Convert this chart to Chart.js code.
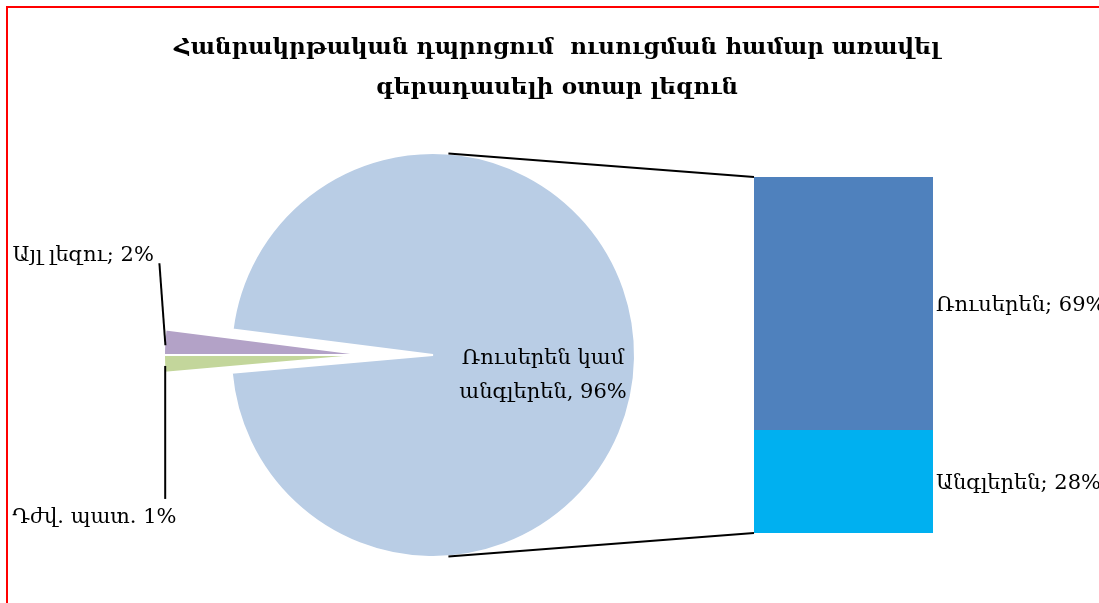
<!DOCTYPE html>
<html>
<head>
<meta charset="utf-8">
<script src="https://cdn.jsdelivr.net/npm/chart.js@4.4.1/dist/chart.umd.min.js"></script>
<style>
  html, body { margin: 0; padding: 0; width: 1099px; height: 603px; overflow: hidden; background: #fff; }
  #frame { position: absolute; left: 6px; top: 6px; width: 1200px; height: 700px; border: 2px solid #ff0000; }
  canvas { position: absolute; left: 0; top: 0; }
</style>
</head>
<body>
<div id="frame"></div>
<canvas id="pieMain" width="1099" height="603"></canvas>
<canvas id="pieOut" width="1099" height="603"></canvas>
<canvas id="bar" width="1099" height="603"></canvas>
<script>
// data
const titleLines = ['Հանրակրթական դպրոցում  ուսուցման համար առավել', 'գերադասելի օտար լեզուն'];
const pieLabels = ['Ռուսերեն կամ անգլերեն', 'Դժվ. պատ.', 'Այլ լեզու'];
const pieValues = [96, 1.4, 2];
const pieColors = ['#B9CDE5', '#C3D69B', '#B3A2C7'];
const barLabels = ['Անգլերեն', 'Ռուսերեն'];
const barValues = [28, 69];
const barColors = ['#00B0F0', '#4F81BD'];

const FONT = "'DejaVu Serif', serif";
const NONE = 'rgba(0,0,0,0)';
const total = pieValues.reduce((a, b) => a + b, 0);
// big slice faces right, the two small ones meet at the far left
const rotation = 270 - (pieValues[0] + pieValues[1]) / total * 360;
const pct = v => Math.round(v) + '%';

function arcPoint(arc, angle, r) {
  return { x: arc.x + Math.cos(angle) * r, y: arc.y + Math.sin(angle) * r };
}

// main pie: only the big slice is visible
const bigLabelPlugin = {
  id: 'bigLabel',
  afterDatasetsDraw(chart) {
    const arc = chart.getDatasetMeta(0).data[0];
    const p = arc.tooltipPosition();
    const ctx = chart.ctx;
    ctx.save();
    ctx.font = '21px ' + FONT;
    ctx.fillStyle = '#000';
    ctx.textAlign = 'center';
    ctx.textBaseline = 'middle';
    ctx.fillText('Ռուսերեն կամ', p.x + 9, p.y + 2);
    ctx.fillText('անգլերեն, ' + pct(pieValues[0]), p.x + 9, p.y + 36);
    ctx.restore();
  }
};

const pieMain = new Chart(document.getElementById('pieMain'), {
  type: 'pie',
  data: {
    labels: pieLabels,
    datasets: [{
      data: pieValues,
      backgroundColor: [pieColors[0], NONE, NONE],
      borderColor: ['#ffffff', NONE, NONE],
      borderWidth: [2, 0, 0]
    }]
  },
  options: {
    responsive: false,
    animation: false,
    rotation: rotation,
    radius: 202,
    layout: { padding: { left: 0, right: 233, top: 107, bottom: 0 } },
    plugins: { legend: { display: false }, tooltip: { enabled: false } }
  },
  plugins: [bigLabelPlugin]
});

// exploded part: the two small slices, moved to the left
const smallLabelPlugin = {
  id: 'smallLabels',
  afterDatasetsDraw(chart) {
    const ctx = chart.ctx;
    const meta = chart.getDatasetMeta(0);
    ctx.save();
    ctx.strokeStyle = '#000';
    ctx.lineWidth = 2;
    ctx.font = '21px ' + FONT;
    ctx.fillStyle = '#000';
    ctx.textAlign = 'left';
    ctx.textBaseline = 'middle';

    // purple (other language) - label above
    let arc = meta.data[2];
    let p = arcPoint(arc, (arc.startAngle + arc.endAngle) / 2, arc.outerRadius);
    ctx.beginPath();
    ctx.moveTo(p.x + 1, p.y + 3);
    ctx.lineTo(p.x - 5, p.y - 79);
    ctx.stroke();
    ctx.fillText(pieLabels[2] + '; ' + pct(pieValues[2]), p.x - 152, p.y - 87);

    // green (hard to answer) - label below
    arc = meta.data[1];
    p = arcPoint(arc, (arc.startAngle + arc.endAngle) / 2, arc.outerRadius);
    ctx.beginPath();
    ctx.moveTo(p.x + 1, p.y + 2);
    ctx.lineTo(p.x + 1, p.y + 135);
    ctx.stroke();
    ctx.fillText(pieLabels[1] + ' ' + pct(pieValues[1]), p.x - 152, p.y + 154);
    ctx.restore();
  }
};

const pieOut = new Chart(document.getElementById('pieOut'), {
  type: 'pie',
  data: {
    labels: pieLabels,
    datasets: [{
      data: pieValues,
      backgroundColor: [NONE, pieColors[1], pieColors[2]],
      borderColor: [NONE, '#ffffff', '#ffffff'],
      borderWidth: [0, 2, 2]
    }]
  },
  options: {
    responsive: false,
    animation: false,
    rotation: rotation,
    radius: 202,
    layout: { padding: { left: 0, right: 367, top: 107, bottom: 0 } },
    plugins: { legend: { display: false }, tooltip: { enabled: false } }
  },
  plugins: [smallLabelPlugin]
});

// title, bar labels and the two connector lines
const barExtrasPlugin = {
  id: 'barExtras',
  afterDraw(chart) {
    const ctx = chart.ctx;
    ctx.save();
    ctx.fillStyle = '#000';
    ctx.textAlign = 'center';
    ctx.textBaseline = 'middle';
    ctx.font = 'bold 23px ' + FONT;
    ctx.fillText(titleLines[0], 557, 48);
    ctx.fillText(titleLines[1], 557, 88);

    ctx.font = '21px ' + FONT;
    ctx.textAlign = 'left';
    barValues.forEach((v, i) => {
      const el = chart.getDatasetMeta(i).data[0];
      const right = el.x + el.width / 2;
      ctx.fillText(barLabels[i] + '; ' + pct(v), right + 3, (el.y + el.base) / 2 + 2);
    });

    // tangent lines from the bar corners to the pie
    const arc = pieMain.getDatasetMeta(0).data[0];
    const top = chart.getDatasetMeta(barValues.length - 1).data[0];
    const bottom = chart.getDatasetMeta(0).data[0];
    const left = top.x - top.width / 2;
    const corners = [{ x: left, y: top.y, s: -1 }, { x: left, y: bottom.base, s: 1 }];
    ctx.strokeStyle = '#000';
    ctx.lineWidth = 2;
    corners.forEach(c => {
      const dx = c.x - arc.x, dy = c.y - arc.y;
      const d = Math.sqrt(dx * dx + dy * dy);
      const a = Math.atan2(dy, dx) + c.s * Math.acos(arc.outerRadius / d);
      const t = arcPoint(arc, a, arc.outerRadius);
      ctx.beginPath();
      ctx.moveTo(t.x, t.y);
      ctx.lineTo(c.x, c.y);
      ctx.stroke();
    });
    ctx.restore();
  }
};

new Chart(document.getElementById('bar'), {
  type: 'bar',
  data: {
    labels: [''],
    datasets: barValues.map((v, i) => ({
      label: barLabels[i],
      data: [v],
      backgroundColor: barColors[i],
      borderWidth: 0,
      categoryPercentage: 1,
      barPercentage: 1
    }))
  },
  options: {
    responsive: false,
    animation: false,
    layout: { padding: { left: 754, right: 166, top: 177, bottom: 70 } },
    scales: {
      x: { display: false, stacked: true },
      y: { display: false, stacked: true, min: 0, max: barValues.reduce((a, b) => a + b, 0) }
    },
    plugins: { legend: { display: false }, tooltip: { enabled: false } }
  },
  plugins: [barExtrasPlugin]
});
</script>
</body>
</html>
